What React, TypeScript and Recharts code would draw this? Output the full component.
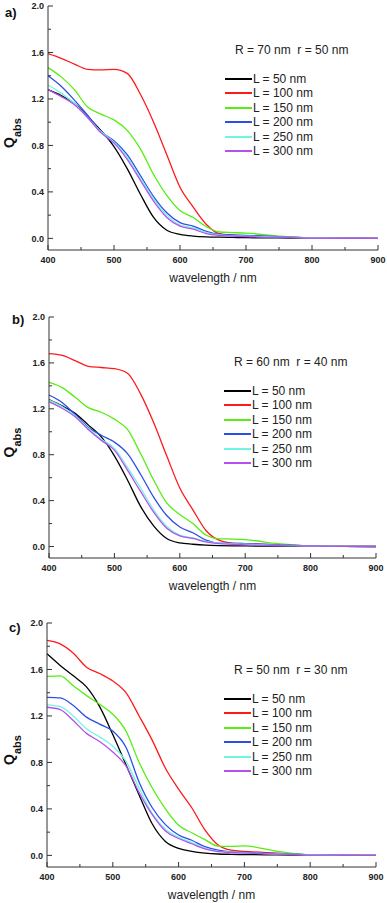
import { LineChart, Line, XAxis, YAxis, Legend, Label } from 'recharts';

// shared axes / legend
const wavelengths = [400, 420, 440, 460, 480, 500, 520, 540, 560, 580, 600, 620, 640, 660, 680, 700, 750, 800, 850, 900];
const seriesKeys = ['l50', 'l100', 'l150', 'l200', 'l250', 'l300'];
const seriesNames = ['L = 50 nm', 'L = 100 nm', 'L = 150 nm', 'L = 200 nm', 'L = 250 nm', 'L = 300 nm'];
const seriesColors = ['#000000', '#ff1a1a', '#55ee11', '#2b4fe6', '#6ff5e3', '#b550ee'];
const xTicks = [400, 450, 500, 550, 600, 650, 700, 750, 800, 850, 900];
const yTicks = [0, 0.2, 0.4, 0.6, 0.8, 1.0, 1.2, 1.4, 1.6, 1.8, 2.0];

// a) R = 70 nm, r = 50 nm
const a50 = [1.28, 1.23, 1.16, 1.05, 0.93, 0.79, 0.6, 0.38, 0.18, 0.07, 0.035, 0.02, 0.013, 0.01, 0.008, 0.006, 0.004, 0.002, 0.001, 0];
const a100 = [1.59, 1.55, 1.5, 1.455, 1.45, 1.455, 1.42, 1.24, 1.0, 0.72, 0.44, 0.27, 0.12, 0.04, 0.028, 0.022, 0.012, 0.004, 0.001, 0];
const a150 = [1.47, 1.39, 1.28, 1.13, 1.07, 1.02, 0.93, 0.77, 0.55, 0.37, 0.24, 0.18, 0.1, 0.055, 0.05, 0.045, 0.02, 0.005, 0.001, 0];
const a200 = [1.4, 1.31, 1.19, 1.06, 0.92, 0.84, 0.72, 0.54, 0.36, 0.22, 0.135, 0.105, 0.06, 0.035, 0.03, 0.025, 0.015, 0.005, 0.001, 0];
const a250 = [1.32, 1.25, 1.16, 1.04, 0.92, 0.83, 0.7, 0.52, 0.34, 0.2, 0.115, 0.09, 0.05, 0.03, 0.022, 0.02, 0.01, 0.004, 0.001, 0];
const a300 = [1.28, 1.22, 1.15, 1.04, 0.91, 0.82, 0.68, 0.5, 0.32, 0.18, 0.105, 0.08, 0.04, 0.025, 0.02, 0.015, 0.008, 0.003, 0.001, 0];

// b) R = 60 nm, r = 40 nm
const b50 = [1.28, 1.225, 1.16, 1.06, 0.955, 0.79, 0.58, 0.35, 0.18, 0.07, 0.032, 0.02, 0.012, 0.008, 0.006, 0.005, 0.003, 0.002, 0.001, 0];
const b100 = [1.68, 1.665, 1.62, 1.57, 1.56, 1.55, 1.51, 1.33, 1.08, 0.79, 0.51, 0.32, 0.14, 0.055, 0.03, 0.025, 0.015, 0.005, 0.001, 0];
const b150 = [1.43, 1.385, 1.3, 1.21, 1.17, 1.11, 1.02, 0.81, 0.58, 0.38, 0.28, 0.2, 0.1, 0.067, 0.065, 0.06, 0.025, 0.005, 0.001, 0];
const b200 = [1.32, 1.255, 1.15, 1.04, 0.97, 0.91, 0.81, 0.63, 0.43, 0.27, 0.17, 0.12, 0.055, 0.03, 0.028, 0.025, 0.015, 0.005, 0.001, 0];
const b250 = [1.275, 1.22, 1.14, 1.03, 0.935, 0.855, 0.69, 0.51, 0.32, 0.175, 0.1, 0.075, 0.045, 0.03, 0.024, 0.02, 0.01, 0.004, 0.001, 0];
const b300 = [1.26, 1.205, 1.13, 1.02, 0.925, 0.84, 0.665, 0.48, 0.3, 0.16, 0.092, 0.07, 0.04, 0.025, 0.02, 0.015, 0.008, 0.003, 0.001, 0];

// c) R = 50 nm, r = 30 nm
const c50 = [1.735, 1.635, 1.545, 1.45, 1.28, 1.04, 0.78, 0.52, 0.27, 0.12, 0.06, 0.035, 0.02, 0.012, 0.009, 0.007, 0.004, 0.002, 0.001, 0];
const c100 = [1.85, 1.82, 1.74, 1.62, 1.565, 1.5, 1.4, 1.2, 0.99, 0.75, 0.57, 0.41, 0.22, 0.09, 0.045, 0.035, 0.02, 0.005, 0.001, 0];
const c150 = [1.54, 1.545, 1.46, 1.375, 1.3, 1.215, 1.07, 0.8, 0.58, 0.4, 0.26, 0.195, 0.135, 0.08, 0.077, 0.082, 0.035, 0.005, 0.001, 0];
const c200 = [1.36, 1.355, 1.29, 1.19, 1.13, 1.07, 0.93, 0.63, 0.41, 0.265, 0.175, 0.13, 0.075, 0.045, 0.03, 0.026, 0.015, 0.005, 0.001, 0];
const c250 = [1.295, 1.28, 1.2, 1.09, 1.02, 0.94, 0.81, 0.58, 0.36, 0.225, 0.155, 0.11, 0.06, 0.035, 0.028, 0.022, 0.012, 0.004, 0.001, 0];
const c300 = [1.275, 1.255, 1.16, 1.05, 0.98, 0.89, 0.77, 0.54, 0.35, 0.21, 0.145, 0.1, 0.055, 0.032, 0.025, 0.02, 0.01, 0.003, 0.001, 0];

const panelLetters = ['a)', 'b)', 'c)'];
const panelNotes = ['R = 70 nm  r = 50 nm', 'R = 60 nm  r = 40 nm', 'R = 50 nm  r = 30 nm'];
const panelSeries = [
  [a50, a100, a150, a200, a250, a300],
  [b50, b100, b150, b200, b250, b300],
  [c50, c100, c150, c200, c250, c300],
];

// placement of each panel on the page
const layouts = [
  { top: 0, height: 300, marginTop: 6, marginRight: 9, yWidth: 48, xHeight: 50, letterX: 5, letterY: 6, legendX: 225, legendY: 43 },
  { top: 300, height: 300, marginTop: 17, marginRight: 11, yWidth: 49, xHeight: 42, letterX: 12, letterY: 13, legendX: 224, legendY: 55 },
  { top: 600, height: 303, marginTop: 23, marginRight: 11, yWidth: 47, xHeight: 36, letterX: 9, letterY: 21, legendX: 224, legendY: 63 },
];

const FONT = '"Liberation Sans", Arial, Helvetica, sans-serif';
const AXIS = '#333';
const tickText = { fontFamily: FONT, fontSize: 9, fontWeight: 700, fill: '#222' };

function buildRows(series) {
  return wavelengths.map((w, i) => {
    const row = { w };
    series.forEach((s, k) => {
      row[seriesKeys[k]] = s[i];
    });
    return row;
  });
}

const isMajorY = (v) => Math.round(v * 10) % 4 === 0;
const isMajorX = (v) => v % 100 === 0;

function LeftTick({ x, y, payload }) {
  const major = isMajorY(payload.value);
  return (
    <g>
      <line x1={x} x2={x + (major ? 5 : 3)} y1={y} y2={y} stroke={AXIS} />
      {major && (
        <text x={x - 4} y={y + 3.2} textAnchor="end" {...tickText}>
          {payload.value.toFixed(1)}
        </text>
      )}
    </g>
  );
}

function RightTick({ x, y, payload }) {
  const major = isMajorY(payload.value);
  return <line x1={x} x2={x - (major ? 5 : 3)} y1={y} y2={y} stroke={AXIS} />;
}

function BottomTick({ x, y, payload }) {
  const major = isMajorX(payload.value);
  return (
    <g>
      <line x1={x} x2={x} y1={y} y2={y - (major ? 5 : 3)} stroke={AXIS} />
      {major && (
        <text x={x} y={y + 12.5} textAnchor="middle" {...tickText}>
          {payload.value}
        </text>
      )}
    </g>
  );
}

function TopTick({ x, y, payload }) {
  const major = isMajorX(payload.value);
  return <line x1={x} x2={x} y1={y} y2={y + (major ? 5 : 3)} stroke={AXIS} />;
}

// legend keeps the series order (recharts sorts its payload by name)
function NoteLegend({ note }) {
  const row = { height: 14.5, lineHeight: '14.5px', display: 'flex', alignItems: 'center' };
  return (
    <div style={{ fontFamily: FONT, fontSize: 12, color: '#222', whiteSpace: 'pre' }}>
      <div style={{ ...row, marginLeft: 10, marginBottom: 14 }}>{note}</div>
      {seriesNames.map((name, i) => (
        <div key={name} style={row}>
          <span style={{ display: 'inline-block', width: 27, height: 1.6, background: seriesColors[i], marginRight: 1 }} />
          <span>{name}</span>
        </div>
      ))}
    </div>
  );
}

function Panel({ index }) {
  const lay = layouts[index];
  const data = buildRows(panelSeries[index]);
  return (
    <div style={{ position: 'absolute', left: 0, top: lay.top, width: 387, height: lay.height }}>
      <LineChart
        width={387}
        height={lay.height}
        data={data}
        margin={{ top: lay.marginTop, right: lay.marginRight, bottom: 0, left: 0 }}
      >
        <XAxis
          dataKey="w"
          type="number"
          domain={[400, 900]}
          ticks={xTicks}
          interval={0}
          tickSize={0}
          tickMargin={0}
          height={lay.xHeight}
          axisLine={{ stroke: AXIS }}
          tick={BottomTick}
        >
          <Label
            content={({ viewBox }) => (
              <text
                x={viewBox.x + viewBox.width / 2}
                y={viewBox.y + 32}
                textAnchor="middle"
                fontFamily={FONT}
                fontSize={12}
                fill="#222"
              >
                wavelength / nm
              </text>
            )}
          />
        </XAxis>
        <XAxis
          xAxisId="top"
          orientation="top"
          type="number"
          domain={[400, 900]}
          ticks={xTicks}
          interval={0}
          tickSize={0}
          tickMargin={0}
          height={0}
          axisLine={{ stroke: AXIS }}
          tick={TopTick}
        />
        <YAxis
          type="number"
          domain={[-0.1, 2.0]}
          allowDataOverflow
          ticks={yTicks}
          interval={0}
          tickSize={0}
          tickMargin={0}
          width={lay.yWidth}
          axisLine={{ stroke: AXIS }}
          tick={LeftTick}
        >
          <Label
            content={({ viewBox }) => (
              <text
                transform={`translate(14, ${viewBox.y + viewBox.height / 2 + 20}) rotate(-90)`}
                fontFamily={FONT}
                fontWeight={700}
                fill="#111"
              >
                <tspan fontSize={14}>Q</tspan>
                <tspan fontSize={11} dy={7}>abs</tspan>
              </text>
            )}
          />
        </YAxis>
        <YAxis
          yAxisId="right"
          orientation="right"
          type="number"
          domain={[-0.1, 2.0]}
          allowDataOverflow
          ticks={yTicks}
          interval={0}
          tickSize={0}
          tickMargin={0}
          width={0}
          axisLine={{ stroke: AXIS }}
          tick={RightTick}
        />
        {seriesKeys.map((key, k) => (
          <Line
            key={key}
            type="monotone"
            dataKey={key}
            name={seriesNames[k]}
            stroke={seriesColors[k]}
            strokeWidth={1.3}
            dot={false}
            activeDot={false}
            isAnimationActive={false}
          />
        ))}
        <Legend
          layout="vertical"
          align="center"
          verticalAlign="middle"
          wrapperStyle={{ top: lay.legendY, left: lay.legendX, width: 'auto' }}
          content={() => <NoteLegend note={panelNotes[index]} />}
        />
      </LineChart>
      <span
        style={{
          position: 'absolute',
          left: lay.letterX,
          top: lay.letterY,
          fontFamily: FONT,
          fontWeight: 700,
          fontSize: 13,
          lineHeight: '13px',
          color: '#111',
        }}
      >
        {panelLetters[index]}
      </span>
    </div>
  );
}

export default function App() {
  return (
    <div style={{ position: 'absolute', left: 0, top: 0, width: 387, height: 903, background: '#fff' }}>
      <Panel index={0} />
      <Panel index={1} />
      <Panel index={2} />
    </div>
  );
}
